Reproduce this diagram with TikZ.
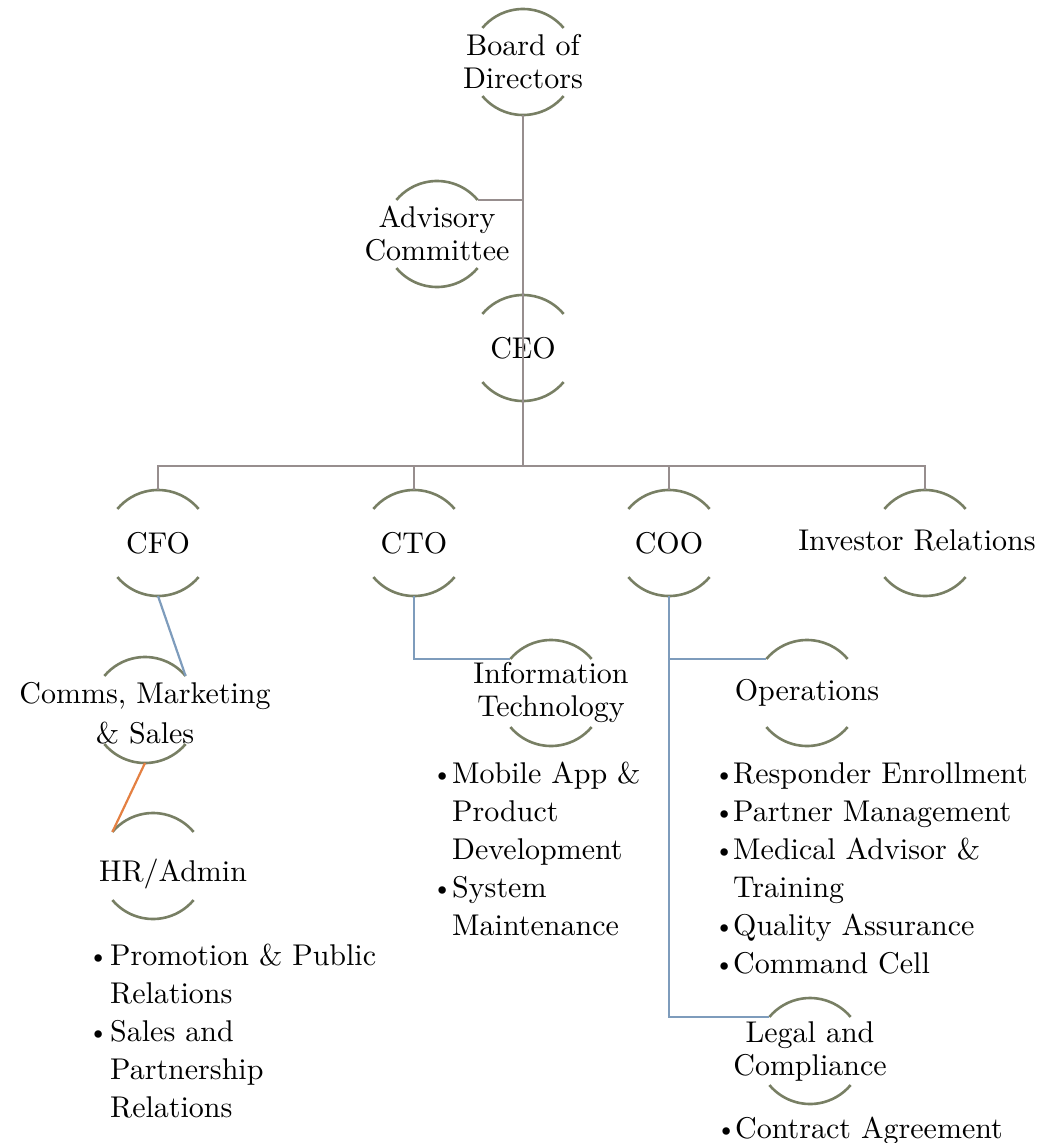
\documentclass[tikz,border=0pt]{standalone}
\usepackage{fontspec}
\setmainfont{lmroman10-regular.otf}
\definecolor{arcgreen}{RGB}{120,127,100}
\definecolor{trunkgrey}{RGB}{151,142,142}
\definecolor{linkblue}{RGB}{126,156,188}
\definecolor{linkorange}{RGB}{228,128,66}
\newcommand\bul[1][18pt]{\makebox[#1][l]{\raisebox{1pt}{\fontsize{26}{26}\selectfont\textbullet}}}
\newcommand\ind[1][18pt]{\makebox[#1]{}}

\begin{document}
\begin{tikzpicture}[x=1pt,y=1pt,
    unit/.style={circle,minimum size=106pt,inner sep=0pt,outer sep=0pt},
    every label/.style={align=center,inner sep=0pt,font=\fontsize{30}{33}\selectfont},
    itemlist/.style={anchor=north west,align=left,inner sep=0pt,font=\fontsize{30}{38}\selectfont},
    arcline/.style={arcgreen,line width=2.6pt},
    trunk/.style={trunkgrey,line width=2.2pt},
    branch/.style={linkblue,line width=2.2pt}]
    \useasboundingbox (0,0) rectangle (1063,-1143);

    % top of the chart
    \node[unit,label={center:{Board of\\Directors}}] (board) at (523,-62) {};
    \node[unit,label={center:{Advisory\\Committee}}] (adv) at (437,-234) {};
    \node[unit,label={center:CEO}] (ceo) at (523,-348) {};
    \coordinate (bar) at (523,-466);

    % second row
    \node[unit,label={center:CFO}] (cfo) at (158,-543) {};
    \node[unit,label={center:CTO}] (cto) at (414,-543) {};
    \node[unit,label={center:COO}] (coo) at (669,-543) {};
    \node[unit,label={[xshift=-8pt,yshift=3pt]center:Investor Relations}] (inv) at (925,-543) {};

    % departments
    \node[unit,label={[yshift=-3pt]center:{Comms, Marketing\\[7pt]\& Sales}}] (comms) at (145,-710) {};
    \node[unit,label={[xshift=20pt,yshift=-8pt]center:HR/Admin}] (hr) at (153,-866) {};
    \node[unit,label={center:{Information\\Technology}}] (it) at (551,-693) {};
    \node[unit,label={center:Operations}] (ops) at (807,-693) {};
    \node[unit,label={center:{Legal and\\Compliance}}] (legal) at (810,-1051) {};

    % half circles
    \foreach \n in {board,adv,ceo,cfo,cto,coo,inv,comms,hr,it,ops,legal}
        \draw[arcline] (\n.40) arc[start angle=40,end angle=140,radius=53]
                       (\n.220) arc[start angle=220,end angle=320,radius=53];

    % connectors
    \draw[trunk] (board.south) -- (ceo.center) -- (bar);
    \draw[trunk] (adv.40) -- (adv.40 -| board.south);
    \draw[trunk] (cfo.north) |- (bar) -| (inv.north);
    \draw[trunk] (cto.north) -- (cto.north |- bar);
    \draw[trunk] (coo.north) -- (coo.north |- bar);
    \draw[branch] (cfo.south) -- (comms.40);
    \draw[linkorange,line width=2.2pt] (comms.south) -- (hr.140);
    \draw[branch] (cto.south) |- (it.140);
    \draw[branch] (coo.south) |- (ops.140);
    \draw[branch] (coo.south) |- (legal.140);

    % item lists
    \node[itemlist] (hrlist) at (88,-944) {\bul[22pt]Promotion \& Public\\\ind[22pt]Relations\\\bul[22pt]Sales and\\\ind[22pt]Partnership\\\ind[22pt]Relations};
    \node[itemlist] (itlist) at (432,-762) {\bul[20pt]Mobile App \&\\\ind[20pt]Product\\\ind[20pt]Development\\\bul[20pt]System\\\ind[20pt]Maintenance};
    \node[itemlist] (opslist) at (714,-762) {\bul[19pt]Responder Enrollment\\\bul[19pt]Partner Management\\\bul[19pt]Medical Advisor \&\\\ind[19pt]Training\\\bul[19pt]Quality Assurance\\\bul[19pt]Command Cell};
    \node[itemlist] (legallist) at (716,-1117) {\bul[19pt]Contract Agreement};
\end{tikzpicture}
\end{document}
